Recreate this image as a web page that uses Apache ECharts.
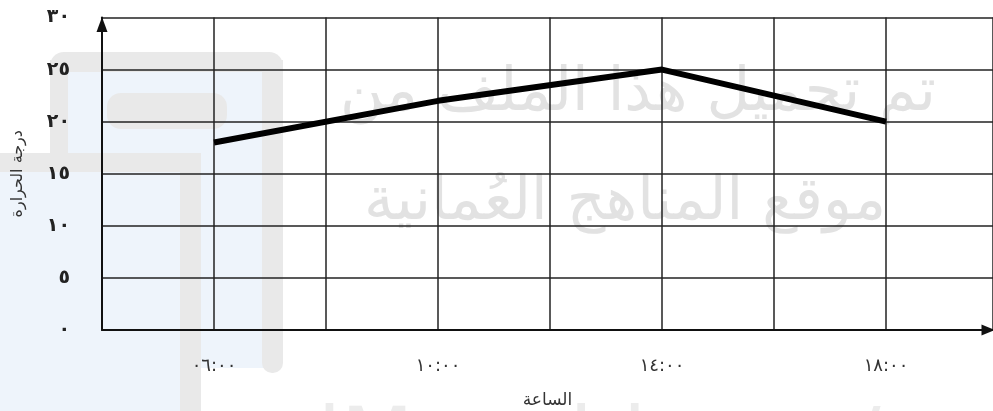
<!DOCTYPE html>
<html>
<head>
<meta charset="utf-8">
<script src="https://cdn.jsdelivr.net/npm/echarts@6/dist/echarts.min.js"></script>
<style>
html,body{margin:0;padding:0;background:#fff;}
#c{width:993px;height:411px;}
</style>
</head>
<body>
<div id="c"></div>
<script>
// ---- data ----
var hours = [6, 10, 14, 18];
var xTickLabels = ['٠٦:٠٠', '١٠:٠٠', '١٤:٠٠', '١٨:٠٠'];
var temperatures = [18, 22, 25, 20];
var yTickValues = [0, 5, 10, 15, 20, 25, 30];
var yTickLabels = ['٠', '٥', '١٠', '١٥', '٢٠', '٢٥', '٣٠'];
var xAxisName = 'الساعة';
var yAxisName = 'درجة الحرارة';
var watermarkLine1 = 'تم تحميل هذا الملف من';
var watermarkLine2 = 'موقع المناهج العُمانية';
var watermarkLine3 = 'alManahj.com/om';

var seriesData = hours.map(function (h, i) { return [h, temperatures[i]]; });

var chart = echarts.init(document.getElementById('c'), null, {renderer: 'canvas'});
var gray = '#e9e9e9', blue = '#eef4fb';
var option = {
  backgroundColor: '#fff',
  animation: false,
  graphic: [
    {type: 'rect', z: -20, shape: {x: 0, y: 153, width: 180, height: 258}, style: {fill: blue}},
    {type: 'rect', z: -20, shape: {x: 60, y: 62, width: 210, height: 306}, style: {fill: blue}},
    {type: 'rect', z: -19, shape: {x: 50, y: 52, width: 233, height: 20, r: [14, 14, 0, 0]}, style: {fill: gray}},
    {type: 'rect', z: -19, shape: {x: 50, y: 60, width: 18, height: 93}, style: {fill: gray}},
    {type: 'rect', z: -19, shape: {x: 262, y: 60, width: 21, height: 313, r: [0, 0, 10, 10]}, style: {fill: gray}},
    {type: 'rect', z: -19, shape: {x: 0, y: 153, width: 201, height: 19}, style: {fill: gray}},
    {type: 'rect', z: -19, shape: {x: 180, y: 153, width: 21, height: 258}, style: {fill: gray}},
    {type: 'rect', z: -19, shape: {x: 107, y: 93, width: 120, height: 36, r: 14}, style: {fill: gray}},
    {type: 'text', z: -18, style: {text: watermarkLine1, x: 638, y: 94, align: 'center', verticalAlign: 'middle', font: '60px "DejaVu Sans"', fill: '#e2e2e2'}},
    {type: 'text', z: -18, style: {text: watermarkLine2, x: 625, y: 203, align: 'center', verticalAlign: 'middle', font: '60px "DejaVu Sans"', fill: '#e2e2e2'}},
    {type: 'text', z: -18, style: {text: watermarkLine3, x: 640, y: 445, align: 'center', verticalAlign: 'middle', font: '84px "DejaVu Sans"', fill: '#ececec'}}
  ],
  grid: {left: 102, right: 0, top: 17.5, bottom: 81, containLabel: false, outerBoundsMode: 'none'},
  xAxis: {
    type: 'value',
    min: 4,
    max: 4 + (993 - 102) / 112 * 2,
    interval: 2,
    name: xAxisName,
    nameLocation: 'middle',
    nameGap: 62,
    nameTextStyle: {fontFamily: 'DejaVu Serif, DejaVu Sans', fontSize: 17, color: '#333'},
    axisLine: {show: true, lineStyle: {color: '#111', width: 2}, symbol: ['none', 'triangle'], symbolSize: [11, 13], symbolOffset: [0, -5]},
    axisTick: {show: false},
    axisLabel: {
      margin: 27,
      fontFamily: 'DejaVu Sans',
      fontSize: 18,
      color: '#333',
      showMaxLabel: false,
      formatter: function (v) {
        var i = hours.indexOf(Math.round(v * 1000) / 1000);
        return i >= 0 ? xTickLabels[i] : '';
      }
    },
    splitLine: {show: true, lineStyle: {color: '#222', width: 1.5}}
  },
  yAxis: {
    type: 'value',
    min: 0,
    max: 30,
    interval: 5,
    name: yAxisName,
    nameLocation: 'middle',
    nameGap: 76,
    nameRotate: 90,
    nameTextStyle: {fontFamily: 'DejaVu Serif, DejaVu Sans', fontSize: 16, color: '#333'},
    axisLine: {show: true, lineStyle: {color: '#111', width: 2}, symbol: ['none', 'triangle'], symbolSize: [11, 15], symbolOffset: [0, -7]},
    axisTick: {show: false},
    axisLabel: {
      margin: 32,
      fontFamily: 'DejaVu Sans',
      fontSize: 19,
      fontWeight: 'bold',
      color: '#222',
      formatter: function (v) {
        var i = yTickValues.indexOf(v);
        return i >= 0 ? yTickLabels[i] : '';
      }
    },
    splitLine: {show: true, lineStyle: {color: '#222', width: 1.5}}
  },
  series: [{
    type: 'line',
    data: seriesData,
    symbol: 'none',
    lineStyle: {color: '#000', width: 6},
    z: 10
  }]
};
chart.setOption(option);
</script>
</body>
</html>
